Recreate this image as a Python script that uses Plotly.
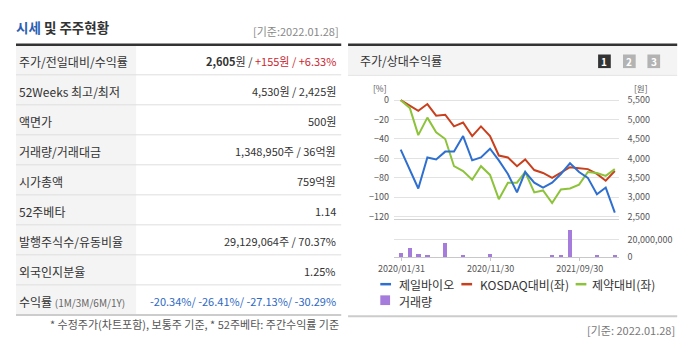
import pandas as pd
import plotly.graph_objects as go

# ---------------- data ----------------
# monthly observation dates, the 28th of each month (2020-01 .. 2022-01)
dates = pd.date_range("2020-01-01", periods=25, freq="MS") + pd.Timedelta(days=27)

# 제일바이오 close price (KRW)
price = [4225, 3725, 3225, 4025, 3975, 4175, 4175, 4575, 3950, 4025, 4250, 3950,
         3600, 3125, 3650, 3375, 3250, 3375, 3600, 3875, 3650, 3500, 3075, 3250, 2605]

# relative return vs KOSDAQ (%)
kosdaq_rel = [0, -6, -11, -4, -16, -15, -27, -23, -37, -27, -37, -57,
              -59, -68, -61, -72, -75, -80, -75, -69, -70, -71, -76, -83, -73]

# relative return vs pharma sector (%)
pharma_rel = [0, -8, -36, -18, -33, -40, -68, -73, -82, -68, -77, -102,
              -85, -85, -74, -95, -93, -106, -92, -91, -87, -74, -75, -78, -71]

# trading volume (shares)
volume = [3800000, 9500000, 3500000, 1000000, 0, 16000000, 0, 900000,
          0, 0, 2700000, 0, 0, 0, 0, 0,
          0, 900000, 900000, 30000000, 0, 0, 900000, 0, 1348950]

x_tick_dates = ["2020-01-31", "2020-11-30", "2021-09-30"]
x_tick_text = ["2020/01/31", "2020/11/30", "2021/09/30"]
pct_ticks = [0, -20, -40, -60, -80, -100, -120]
price_ticks = [2500, 3000, 3500, 4000, 4500, 5000, 5500]
volume_ticks = [0, 20000000]

# summary table
row_labels = ["주가/전일대비/수익률", "52Weeks 최고/최저", "액면가", "거래량/거래대금",
              "시가총액", "52주베타", "발행주식수/유동비율", "외국인지분율", "수익률"]
close_price = "2,605"
change_text = "+155원 / +6.33%"
row_values = [None, "4,530원 / 2,425원", "500원", "1,348,950주 / 36억원", "759억원",
              "1.14", "29,129,064주 / 70.37%", "1.25%", None]
period_returns = ["-20.34%", "-26.41%", "-27.13%", "-30.29%"]
base_date = "2022.01.28"

# ---------------- styling ----------------
W, H = 686, 347
FONT = "Noto Sans CJK KR"
C_TEXT = "#333333"
C_BLUE_LINE = "#2e6fd0"
C_RED_LINE = "#c8401e"
C_GREEN_LINE = "#8dc33b"
C_BAR = "#a57bdc"


def px(x):
    return x / W


def py(y):
    return 1 - y / H


fig = go.Figure()

fig.add_trace(go.Scatter(x=dates, y=price, yaxis="y2", mode="lines",
                         line=dict(color=C_BLUE_LINE, width=2), name="제일바이오"))
fig.add_trace(go.Scatter(x=dates, y=kosdaq_rel, yaxis="y", mode="lines",
                         line=dict(color=C_RED_LINE, width=2), name="KOSDAQ대비(좌)"))
fig.add_trace(go.Scatter(x=dates, y=pharma_rel, yaxis="y", mode="lines",
                         line=dict(color=C_GREEN_LINE, width=2), name="제약대비(좌)"))
fig.add_trace(go.Bar(x=dates, y=volume, xaxis="x2", yaxis="y3",
                     marker=dict(color=C_BAR, line=dict(width=0)),
                     width=15 * 86400000, name="거래량"))

x_range = ["2020-01-05", "2022-02-10"]
plot_x = [px(387), px(617)]

# upper chart: -122 .. 3 (%), price axis linearly tied: 5500 + 25 * pct
pct_lo, pct_hi = -122, 3
tick_font = dict(family=FONT, size=9, color="#555555")

fig.update_layout(
    width=W, height=H,
    margin=dict(l=0, r=0, t=0, b=0),
    paper_bgcolor="white", plot_bgcolor="white",
    showlegend=False,
    bargap=0,
    font=dict(family=FONT, color=C_TEXT),
    xaxis=dict(domain=plot_x, range=x_range, anchor="y", type="date",
               showticklabels=False, showgrid=False, zeroline=False,
               showline=True, linecolor="#d0d0d0", linewidth=1, ticks=""),
    yaxis=dict(domain=[py(221), py(96)], range=[pct_lo, pct_hi],
               tickvals=pct_ticks, showgrid=True, gridcolor="#e2e2e2",
               zeroline=False, showline=False, ticks="",
               tickfont=tick_font, ticklabelstandoff=4),
    yaxis2=dict(overlaying="y", side="right", anchor="x",
                range=[5500 + 25 * pct_lo, 5500 + 25 * pct_hi],
                tickvals=price_ticks, tickformat=",", showgrid=False,
                zeroline=False, showline=False, ticks="",
                tickfont=tick_font, ticklabelstandoff=8),
    xaxis2=dict(domain=plot_x, range=x_range, anchor="y3", type="date",
                tickvals=x_tick_dates, ticktext=x_tick_text,
                ticks="outside", ticklen=3, tickcolor="#c8c8c8",
                showgrid=False, zeroline=False, showline=True,
                linecolor="#c8c8c8", linewidth=1, tickfont=tick_font),
    yaxis3=dict(domain=[py(260.5), py(230)], range=[0, 34000000], anchor="x2",
                side="right", tickvals=volume_ticks, tickformat=",",
                showgrid=True, gridcolor="#e2e2e2", zeroline=False,
                showline=False, ticks="", tickfont=tick_font,
                ticklabelstandoff=8),
)

shapes = []
ann = []


def hline(x0, x1, y, color, width):
    shapes.append(dict(type="line", xref="paper", yref="paper",
                       x0=px(x0), x1=px(x1), y0=py(y), y1=py(y),
                       line=dict(color=color, width=width)))


def rect(x0, y0, x1, y1, color):
    shapes.append(dict(type="rect", xref="paper", yref="paper",
                       x0=px(x0), x1=px(x1), y0=py(y1), y1=py(y0),
                       fillcolor=color, line=dict(width=0), layer="below"))


def text(x, y, s, size, color=C_TEXT, anchor="left"):
    ann.append(dict(xref="paper", yref="paper", x=px(x), y=py(y), text=s,
                    showarrow=False, xanchor=anchor, yanchor="middle",
                    font=dict(family=FONT, size=size, color=color)))


# ---------------- left panel: summary table ----------------
text(-2, 24, "<b><span style='color:#2f5fb3'>시세</span> 및 주주현황</b>", 13.5)
text(333, 28, f"[기준:{base_date}]", 11, "#888888", "right")
top = 42
row_h = 30.9
rect(0, top, 123, top + row_h * len(row_labels), "#f4f4f4")
hline(0, 333, top, "#333333", 2.5)
for i, lab in enumerate(row_labels):
    cy = top + row_h * (i + 0.5) + 1.5
    yb = top + row_h * (i + 1)
    if i < len(row_labels) - 1:
        hline(0, 333, yb, "#dedede", 1)
    else:
        hline(0, 333, yb, "#cccccc", 2)
    if i == len(row_labels) - 1:
        text(1, cy, lab + " <span style='font-size:10px;color:#666666'>(1M/3M/6M/1Y)</span>", 12)
        text(330, cy, "/ ".join(period_returns), 11, "#2d68c4", "right")
    elif i == 0:
        text(1, cy, lab, 12)
        text(330, cy, f"<b>{close_price}</b>원 / <span style='color:#cc1f2f'>{change_text}</span>",
             11, C_TEXT, "right")
    else:
        text(1, cy, lab, 12)
        text(330, cy, row_values[i], 11, C_TEXT, "right")

text(333, 329, "* 수정주가(차트포함), 보통주 기준, * 52주베타: 주간수익률 기준", 11, "#555555", "right")

# ---------------- right panel: chart frame ----------------
rect(340, 43, 677, 73, "#f4f4f4")
hline(340, 677, 42, "#333333", 2.5)
hline(340, 677, 73.5, "#e4e4e4", 1)
text(350, 58, "주가/상대수익률", 12)
for k, (x0, col) in enumerate([(596, "#333333"), (621.5, "#b3b3b3"), (646.5, "#b3b3b3")]):
    shapes.append(dict(type="rect", xref="paper", yref="paper",
                       x0=px(x0), x1=px(x0 + 13), y0=py(66), y1=py(52),
                       fillcolor=col, line=dict(width=0)))
    text(x0 + 6.5, 59.5, f"<b>{k + 1}</b>", 10, "white", "center")

text(382, 86, "[%]", 8.5, "#555555", "right")
text(640, 86, "[원]", 8.5, "#555555", "center")

# legend
legend_items = [(373, 390, C_BLUE_LINE, "제일바이오"),
                (456, 473, C_RED_LINE, "KOSDAQ대비(좌)"),
                (573, 588, C_GREEN_LINE, "제약대비(좌)")]
for x0, tx, col, lab in legend_items:
    hline(x0, x0 + 11, 288.5, col, 2.5)
    text(tx, 289, lab, 12, C_TEXT)
shapes.append(dict(type="rect", xref="paper", yref="paper",
                   x0=px(373), x1=px(383), y0=py(310), y1=py(300),
                   fillcolor=C_BAR, line=dict(width=0)))
text(390, 306, "거래량", 12, C_TEXT)

hline(340, 677, 321.5, "#cccccc", 2)
text(677, 336, f"[기준: {base_date}]", 11, "#777777", "right")

fig.update_layout(shapes=shapes, annotations=ann)
fig.write_html("out.html")
